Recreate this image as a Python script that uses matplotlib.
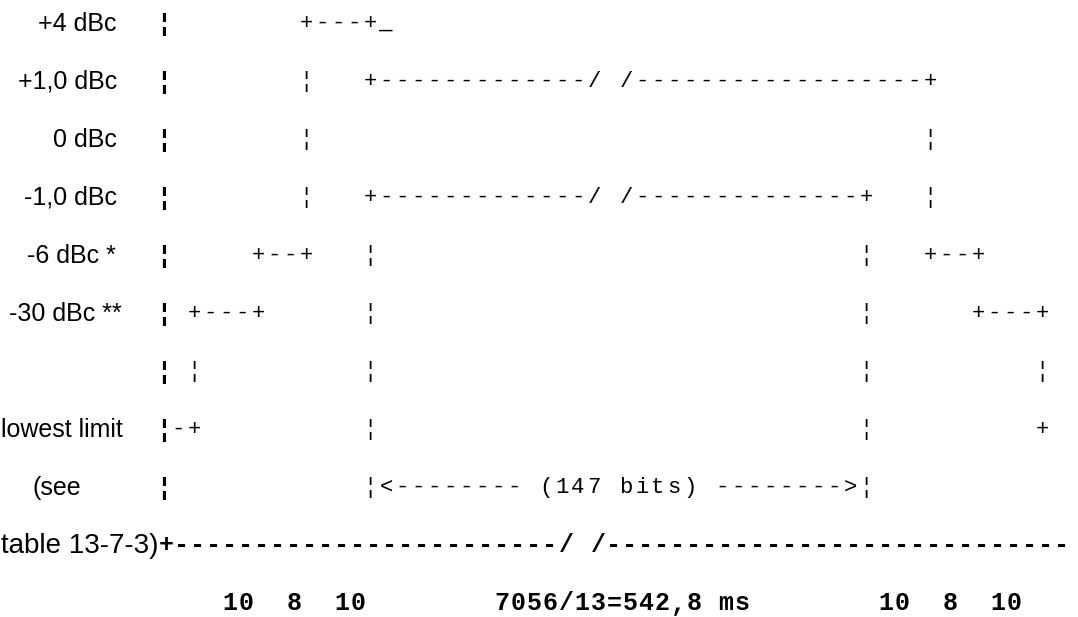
import matplotlib
matplotlib.use('Agg')
from matplotlib import pyplot as plt

# Row labels (left column), anchor x in pixels, alignment and size
labels = ['+4 dBc', '+1,0 dBc', '0 dBc', '-1,0 dBc', '-6 dBc *', '-30 dBc **',
          '', 'lowest limit', '(see', 'table 13-7-3)']
label_x = [117, 117, 117, 117, 116, 122, 0, 1, 32, 1]
label_ha = ['right', 'right', 'right', 'right', 'right', 'right', 'left', 'left', 'left', 'left']
label_size = [18, 18, 18, 18, 18, 18, 18, 18, 18, 20]

# Thin ascii-art rows, one character per grid column
art_rows = [
    ' ' * 8 + '+---+_',
    ' ' * 8 + '\u00a6   +' + '-' * 13 + '/ /' + '-' * 18 + '+',
    ' ' * 8 + '\u00a6' + ' ' * 38 + '\u00a6',
    ' ' * 8 + '\u00a6   +' + '-' * 13 + '/ /' + '-' * 14 + '+   \u00a6',
    ' ' * 5 + '+--+   \u00a6' + ' ' * 30 + '\u00a6   +--+',
    ' +---+' + ' ' * 6 + '\u00a6' + ' ' * 30 + '\u00a6' + ' ' * 6 + '+---+',
    ' \u00a6' + ' ' * 10 + '\u00a6' + ' ' * 30 + '\u00a6' + ' ' * 10 + '\u00a6',
    '-+' + ' ' * 10 + '\u00a6' + ' ' * 30 + '\u00a6' + ' ' * 10 + '+',
    ' ' * 12 + '\u00a6<-------- (147 bits) -------->\u00a6',
]

# Bold time axis line and the durations below it
axis_line = '+' + '-' * 24 + '/ /' + '-' * 29
durations = '10  8  10' + ' ' * 8 + '7056/13=542,8 ms' + ' ' * 8 + '10  8  10'

W, H = 1078, 617
fig = plt.figure(figsize=(W / 100, H / 100), dpi=100)
ax = fig.add_axes([0, 0, 1, 1])
ax.set_xlim(0, W)
ax.set_ylim(H, 0)
ax.axis('off')

row_y = [23 + 58 * i for i in range(11)]
step = 16


def draw_grid(s, x0, y, size, weight='normal'):
    # place each character on a fixed pitch
    for i, ch in enumerate(s):
        if ch == ' ':
            continue
        ax.text(x0 + step * i, y, ch, fontsize=size, fontweight=weight,
                family='Liberation Mono', ha='center', va='baseline', color='black')


# labels and thick separator bar
for i, lab in enumerate(labels):
    if lab:
        ax.text(label_x[i], row_y[i] + 8, lab, fontsize=label_size[i], family='Liberation Sans',
                ha=label_ha[i], va='baseline', color='black')
    if i < 9:
        ax.text(164, row_y[i] + 8, '\u00a6', fontsize=17.5, fontweight='bold',
                family='Liberation Sans', ha='center', va='baseline', color='black')

for i, row in enumerate(art_rows):
    draw_grid(row, 178, row_y[i] + 6, 16)

draw_grid(axis_line, 166, row_y[9] + 7, 18, 'bold')
draw_grid(durations, 230, row_y[10] + 7.5, 18, 'bold')

plt.savefig('out.png', dpi=100)
